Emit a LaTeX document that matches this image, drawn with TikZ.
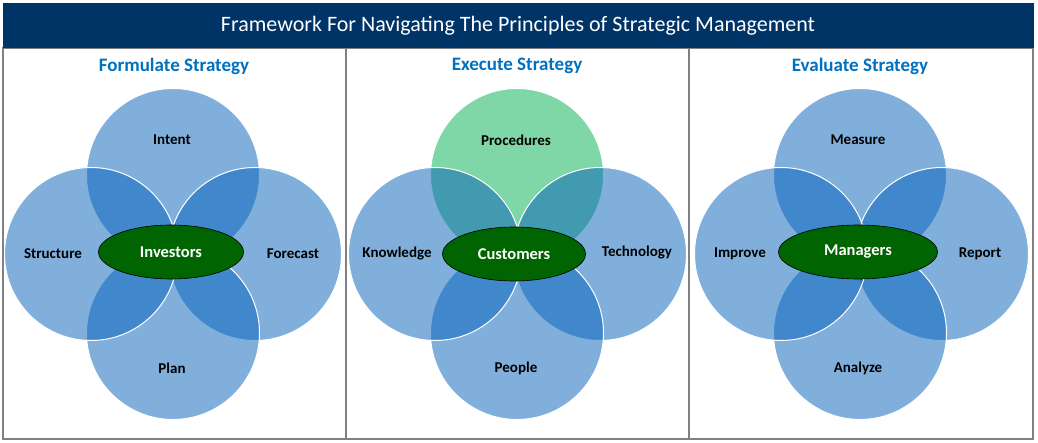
\documentclass[tikz,border=0pt]{standalone}
\usepackage{fontspec}
\setmainfont{Carlito}
\usetikzlibrary{shapes.geometric}
\definecolor{titlenavy}{RGB}{0,51,102}
\definecolor{headblue}{RGB}{0,112,192}
\definecolor{venblue}{RGB}{3,96,186}
\definecolor{vengreen}{RGB}{0,173,80}
\definecolor{hubgreen}{RGB}{0,100,0}
\definecolor{framegray}{RGB}{128,128,128}
\tikzset{
    bcirc/.style={circle, draw=white, line width=1pt, fill=venblue, fill opacity=0.5, minimum size=173pt, inner sep=0pt},
    gcirc/.style={bcirc, fill=vengreen},
    hub/.style={ellipse, draw=black, line width=0.6pt, fill=hubgreen, text=white, minimum height=54pt, font=\fontsize{16.5}{19}\selectfont\bfseries},
    lbl/.style={text=black, font=\fontsize{15}{18}\selectfont\bfseries},
    head/.style={text=headblue, font=\fontsize{19}{22}\selectfont\bfseries},
}

\begin{document}
\begin{tikzpicture}[x=1pt, y=1pt]
    \useasboundingbox (0,0) rectangle (1038,443);

    % Frame and title bar
    \draw[framegray, line width=1.5pt] (3,4) rectangle (1033,395);
    \draw[framegray, line width=1.5pt] (346,4) -- (346,395);
    \draw[framegray, line width=1.5pt] (689,4) -- (689,395);
    \fill[titlenavy] (3,395) rectangle (1034,440);
    \node[text=white, font=\fontsize{22}{26}\selectfont] (title) at (518,417) {Framework For Navigating The Principles of Strategic Management};

    % Formulate
    \node[head] (formulate) at (174,377) {Formulate Strategy};
    \node[bcirc] (intent) at (173,268) {};
    \node[bcirc] (forecast) at (255,189) {};
    \node[bcirc] (plan) at (173,110) {};
    \node[bcirc] (structure) at (91,189) {};
    \node[lbl] (intentl) at (172,303) {Intent};
    \node[lbl] (forecastl) at (293,189) {Forecast};
    \node[lbl] (planl) at (172,75) {Plan};
    \node[lbl] (structurel) at (53,189) {Structure};
    \node[hub, minimum width=145pt] (investors) at (171,191) {Investors};

    % Execute
    \node[head] (execute) at (517,377) {Execute Strategy};
    \node[gcirc] (procedures) at (517,268) {};
    \node[bcirc] (technology) at (600,189) {};
    \node[bcirc] (people) at (517,110) {};
    \node[bcirc] (knowledge) at (435,189) {};
    \node[lbl] (proceduresl) at (516,303) {Procedures};
    \node[lbl] (technologyl) at (637,190) {Technology};
    \node[lbl] (peoplel) at (516,75) {People};
    \node[lbl] (knowledgel) at (397,189) {Knowledge};
    \node[hub, minimum width=143pt] (customers) at (514,189) {Customers};

    % Evaluate
    \node[head] (evaluate) at (860,377) {Evaluate Strategy};
    \node[bcirc] (measure) at (860,268) {};
    \node[bcirc] (report) at (942,189) {};
    \node[bcirc] (analyze) at (860,110) {};
    \node[bcirc] (improve) at (781,189) {};
    \node[lbl] (measurel) at (858,303) {Measure};
    \node[lbl] (reportl) at (980,189) {Report};
    \node[lbl] (analyzel) at (858,75) {Analyze};
    \node[lbl] (improvel) at (740,189) {Improve};
    \node[hub, minimum width=159pt] (managers) at (858,191) {Managers};
\end{tikzpicture}
\end{document}
